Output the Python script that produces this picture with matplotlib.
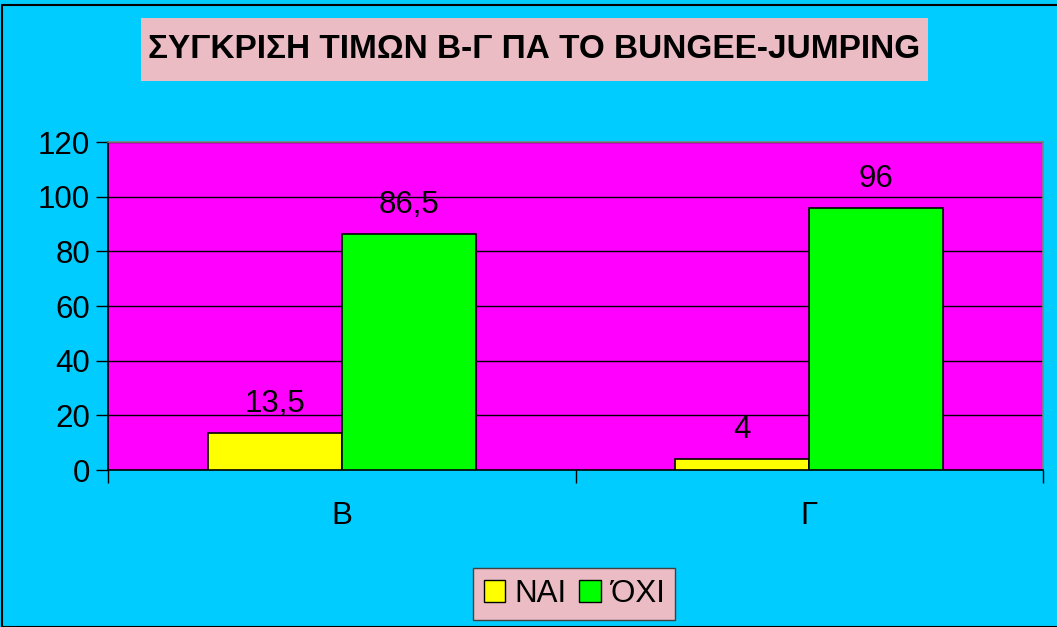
import matplotlib
matplotlib.use("Agg")
import matplotlib.pyplot as plt
from matplotlib.patches import Rectangle, Patch
from matplotlib.ticker import MultipleLocator, FixedLocator, NullFormatter

plt.rcParams['font.family'] = ['Liberation Sans', 'DejaVu Sans']

# Data
categories = ["B", "Γ"]
series_names = ["ΝΑΙ", "ΌΧΙ"]
nai = [13.5, 4]
oxi = [86.5, 96]
nai_labels = ["13,5", "4"]
oxi_labels = ["86,5", "96"]
title = "ΣΥΓΚΡΙΣΗ ΤΙΜΩΝ Β-Γ ΠΑ ΤΟ BUNGEE-JUMPING"

W, H = 1057, 627
FS = 22.5
fig = plt.figure(figsize=(W / 100, H / 100), dpi=100)
fig.patch.set_facecolor("#00CCFF")

# outer frame of the chart
fig.add_artist(Rectangle((2 / W, 0), 1.2, 1 - 5 / H, transform=fig.transFigure,
                         fill=False, edgecolor="black", linewidth=1.5))

# plot area: x 108..1043, y 142..470 (pixels from top)
ax = fig.add_axes([108 / W, 1 - 470 / H, (1043 - 108) / W, (470 - 142) / H])
ax.set_facecolor("#FF00FF")

x = range(len(categories))
bw = 0.287
ax.bar([i - bw / 2 for i in x], nai, width=bw, color="#FFFF00",
       edgecolor="black", linewidth=1.2, zorder=3)
ax.bar([i + bw / 2 for i in x], oxi, width=bw, color="#00FF00",
       edgecolor="black", linewidth=1.2, zorder=3)

for i in x:
    ax.annotate(nai_labels[i], (i - bw / 2, nai[i]), xytext=(0, 10),
                textcoords="offset points", ha="center", va="bottom", fontsize=FS)
    ax.annotate(oxi_labels[i], (i + bw / 2, oxi[i]), xytext=(0, 10),
                textcoords="offset points", ha="center", va="bottom", fontsize=FS)

ax.set_xlim(-0.5, 1.5)
ax.set_ylim(0, 120)
ax.yaxis.set_major_locator(MultipleLocator(20))
ax.grid(axis="y", color="black", linewidth=1, zorder=1)
ax.tick_params(axis="y", direction="out", length=9, width=1, labelsize=FS, pad=4)

# x ticks at category boundaries, labels at centres
ax.xaxis.set_major_locator(FixedLocator([-0.5, 0.5, 1.5]))
ax.xaxis.set_major_formatter(NullFormatter())
ax.xaxis.set_minor_locator(FixedLocator(list(x)))
ax.set_xticklabels(categories, minor=True)
ax.tick_params(axis="x", which="major", direction="out", length=9, width=1)
ax.tick_params(axis="x", which="minor", length=0, labelsize=FS, pad=22)

ax.spines["left"].set_color("black")
ax.spines["bottom"].set_color("black")
ax.spines["top"].set_color("#808080")
ax.spines["right"].set_color("#808080")
for s in ax.spines.values():
    s.set_linewidth(1.2)

# title box
fig.add_artist(Rectangle((141 / W, 1 - 81 / H), (928 - 141) / W, (81 - 18) / H,
                         transform=fig.transFigure, facecolor="#EBBCC4",
                         edgecolor="none"))
fig.text((141 + 928) / 2 / W, 1 - 50 / H, title, ha="center", va="center",
         fontsize=24, fontweight="bold")

# legend
handles = [Patch(facecolor="#FFFF00", edgecolor="black"),
           Patch(facecolor="#00FF00", edgecolor="black")]
leg = fig.legend(handles, series_names, loc="center",
                 bbox_to_anchor=(574 / W, 1 - 594 / H), ncol=2, fontsize=FS,
                 frameon=True, fancybox=False, handlelength=0.7, handleheight=0.7,
                 handletextpad=0.3, columnspacing=0.4, borderpad=0.35,
                 borderaxespad=0)
leg.get_frame().set_facecolor("#EBBCC4")
leg.get_frame().set_edgecolor("#404040")
leg.get_frame().set_alpha(1)

fig.savefig("out.png", dpi=100, facecolor=fig.get_facecolor())
